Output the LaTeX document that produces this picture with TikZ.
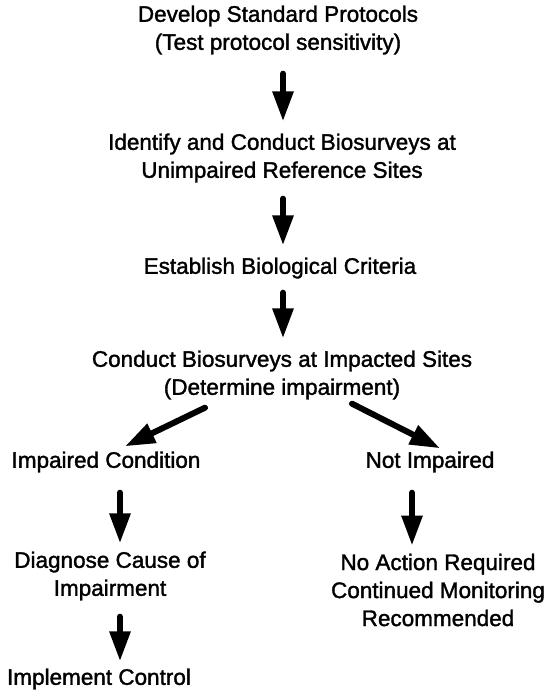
\documentclass[tikz,border=0pt]{standalone}
\usepackage{fontspec}
\newfontfamily\diagfont{Liberation Sans}[FakeBold=1.5]
\usetikzlibrary{arrows.meta}
\begin{document}
\begin{tikzpicture}[x=1pt,y=-1pt,
  lbl/.style={inner sep=0pt,align=center,font=\diagfont\fontsize{22.5}{28}\selectfont},
  arr/.style={line width=6pt,line cap=round,-{Triangle[length=30pt,width=20pt]}}]
\useasboundingbox (0,0) rectangle (559,690);
\node[lbl] (n1) at (278,30) {Develop Standard Protocols\\(Test protocol sensitivity)};
\node[lbl] (n2) at (282,158) {Identify and Conduct Biosurveys at\\Unimpaired Reference Sites};
\node[lbl] (n3) at (280,268) {Establish Biological Criteria};
\node[lbl] (n4) at (282,375) {Conduct Biosurveys at Impacted Sites\\(Determine impairment)};
\node[lbl] (n5) at (106,462) {Impaired Condition};
\node[lbl] (n6) at (430,462) {Not Impaired};
\node[lbl] (n7) at (110,576) {Diagnose Cause of\\Impairment};
\node[lbl] (n8) at (438,590) {No Action Required\\Continued Monitoring\\Recommended};
\node[lbl] (n9) at (99,679) {Implement Control};
\draw[arr] ([xshift=5pt,yshift=-19pt]n1.south) -- ([xshift=1pt,yshift=12pt]n2.north);
\draw[arr] ([xshift=1pt,yshift=-16pt]n2.south) -- ([xshift=3pt,yshift=12pt]n3.north);
\draw[arr] ([xshift=3pt,yshift=-14pt]n3.south) -- ([xshift=1pt,yshift=12pt]n4.north);
\draw[arr] ([shift={(-77pt,-8pt)}]n4.south) -- ([shift={(19pt,5pt)}]n5.north);
\draw[arr] ([shift={(70pt,-4pt)}]n4.south) -- ([shift={(10pt,3pt)}]n6.north);
\draw[arr] ([shift={(14pt,-20pt)}]n5.south) -- ([shift={(10pt,8pt)}]n7.north);
\draw[arr] ([shift={(-18pt,-20pt)}]n6.south) -- ([shift={(-26pt,8pt)}]n8.north);
\draw[arr] ([shift={(10pt,-16pt)}]n7.south) -- ([shift={(21pt,7pt)}]n9.north);
\end{tikzpicture}
\end{document}
